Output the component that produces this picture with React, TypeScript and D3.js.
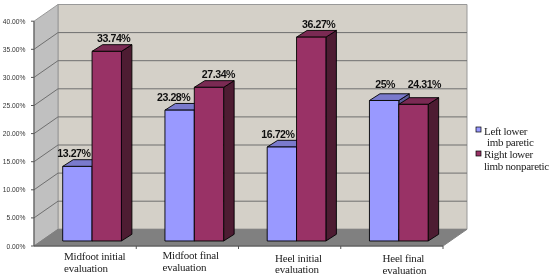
import React from 'react'
import * as d3 from 'd3'

const categories = [
  ['Midfoot initial', 'evaluation'],
  ['Midfoot final', 'evaluation'],
  ['Heel initial', 'evaluation'],
  ['Heel final', 'evaluation'],
]
const seriesNames = ['left', 'right']
const leftValues = [13.27, 23.28, 16.72, 25]
const rightValues = [33.74, 27.34, 36.27, 24.31]
const leftLabels = ['13.27%', '23.28%', '16.72%', '25%']
const rightLabels = ['33.74%', '27.34%', '36.27%', '24.31%']
const yTicks = [0, 5, 10, 15, 20, 25, 30, 35, 40]

// hand tweaks for where the labels sat in the original
const leftNudge = [[-3.5, 0], [-6, 0], [-4, 0], [1, -3]]
const rightNudge = [[7, 0], [9.5, 0], [7.5, 0], [11, -7]]
const catLabelX = [64, 162.5, 275, 382.5]
const catLabelY = [260, 259, 261.5, 262]

const colors = {
  left: { front: '#9999ff', top: '#7a7acc', side: '#5c5c99' },
  right: { front: '#993366', top: '#7a2952', side: '#4d1a33' },
}

const width = 550
const height = 279
// depth of the 3d box
const dx = 24
const dy = 16.7
const x0 = 34
const x1 = 443
const yBase = 246
const yTop = 21.2

const x = d3.scaleBand<number>().domain(d3.range(categories.length)).range([x0, x1]).padding(0)
const y = d3.scaleLinear().domain([0, 40]).range([yBase, yTop])
const inner = d3.scaleBand<string>().domain(seriesNames).range([21.5, 80.2])

// bars sit a bit back from the front edge of the floor
const barDx = 0.3 * dx
const barDy = 0.3 * dy
const barDepthX = 10.5
const barDepthY = 6.7

const poly = (pts: number[][]) => d3.line()(pts as [number, number][]) + 'Z'

const Bar = ({ i, name, value }: { i: number; name: string; value: number }) => {
  const c = colors[name as 'left' | 'right']
  const l = (x(i) as number) + (inner(name) as number) + barDx
  const r = l + inner.bandwidth()
  const t = y(value) - barDy
  const b = y(0) - barDy
  return (
    <g stroke="#000" strokeWidth={0.9} strokeLinejoin="round">
      <path d={poly([[r, t], [r + barDepthX, t - barDepthY], [r + barDepthX, b - barDepthY], [r, b]])} fill={c.side} />
      <path d={poly([[l, t], [l + barDepthX, t - barDepthY], [r + barDepthX, t - barDepthY], [r, t]])} fill={c.top} />
      <rect x={l} y={t} width={r - l} height={b - t} fill={c.front} />
    </g>
  )
}

export default function App() {
  const backL = x0 + dx
  const backR = x1 + dx
  return (
    <svg width={width} height={height} style={{ position: 'absolute', left: 0, top: 0, background: '#fff' }}>
      {/* the source is a soft jpeg */}
      <filter id="soft" x="0" y="0" width="100%" height="100%">
        <feGaussianBlur stdDeviation={0.35} />
      </filter>
      <g filter="url(#soft)">
        <rect width={width} height={height} fill="#fff" />
        {/* walls and floor */}
        <path d={poly([[backL, y(40) - dy], [backR, y(40) - dy], [backR, y(0) - dy], [backL, y(0) - dy]])} fill="#d4d0c8" stroke="#999" strokeWidth={1} />
        <path d={poly([[x0, y(40)], [backL, y(40) - dy], [backL, y(0) - dy], [x0, y(0)]])} fill="#c0c0c0" stroke="#999" strokeWidth={1} />
        <path d={poly([[x0, y(0)], [backL, y(0) - dy], [backR, y(0) - dy], [x1, y(0)]])} fill="#808080" stroke="#808080" />

        {/* gridlines */}
        {yTicks.slice(1, -1).map(t => (
          <path key={t} d={d3.line()([[x0, y(t)], [backL, y(t) - dy], [backR, y(t) - dy]])!} fill="none" stroke="#6f6f6f" strokeWidth={1} />
        ))}

        {/* axes */}
        <path d={`M${x0},${y(40)}V${y(0)}H${x1}`} fill="none" stroke="#555" strokeWidth={1} />
        {yTicks.map(t => (
          <g key={t}>
            <line x1={x0 - 3} x2={x0} y1={y(t)} y2={y(t)} stroke="#555" />
            <text x={25.5} y={y(t) + 2.5} textAnchor="end" fontFamily="Liberation Sans" fontSize={6.7} fill="#333">
              {t.toFixed(2)}%
            </text>
          </g>
        ))}
        {categories.map((_, i) => (
          <line key={i} x1={(x(i) as number) + x.bandwidth()} x2={(x(i) as number) + x.bandwidth()} y1={y(0)} y2={y(0) + 3} stroke="#555" />
        ))}

        {/* bars */}
        {categories.map((_, i) => (
          <g key={i}>
            <Bar i={i} name="left" value={leftValues[i]} />
            <Bar i={i} name="right" value={rightValues[i]} />
          </g>
        ))}

        {/* value labels */}
        {categories.map((_, i) => {
          const lx = (x(i) as number) + barDx + (inner('left') as number) + inner.bandwidth() / 2
          const rx = (x(i) as number) + barDx + (inner('right') as number) + inner.bandwidth() / 2
          return (
            <g key={i} fontFamily="Liberation Sans" fontWeight="bold" fontSize={10.6} letterSpacing={-0.45} fill="#111" textAnchor="middle">
              <text x={lx + leftNudge[i][0]} y={y(leftValues[i]) - barDy - barDepthY - 2.3 + leftNudge[i][1]}>{leftLabels[i]}</text>
              <text x={rx + rightNudge[i][0]} y={y(rightValues[i]) - barDy - barDepthY - 2.3 + rightNudge[i][1]}>{rightLabels[i]}</text>
            </g>
          )
        })}

        {/* category labels */}
        {categories.map((lines, i) => (
          <g key={i} fontFamily="Liberation Serif" fontSize={11} letterSpacing={-0.2} fill="#222">
            {lines.map((s, j) => (
              <text key={j} x={catLabelX[i]} y={catLabelY[i] + j * 11.7}>{s}</text>
            ))}
          </g>
        ))}

        {/* legend */}
        <g fontFamily="Liberation Serif" fontSize={11} letterSpacing={-0.3} fill="#222">
          <rect x={476} y={127} width={5} height={5} fill={colors.left.front} stroke="#000" strokeWidth={0.7} />
          <text x={484} y={135}>Left lower</text>
          <text x={487} y={146}>imb paretic</text>
          <rect x={476} y={151} width={5} height={5} fill={colors.right.front} stroke="#000" strokeWidth={0.7} />
          <text x={484} y={158}>Right lower</text>
          <text x={484} y={169.5}>limb nonparetic</text>
        </g>
      </g>
    </svg>
  )
}
